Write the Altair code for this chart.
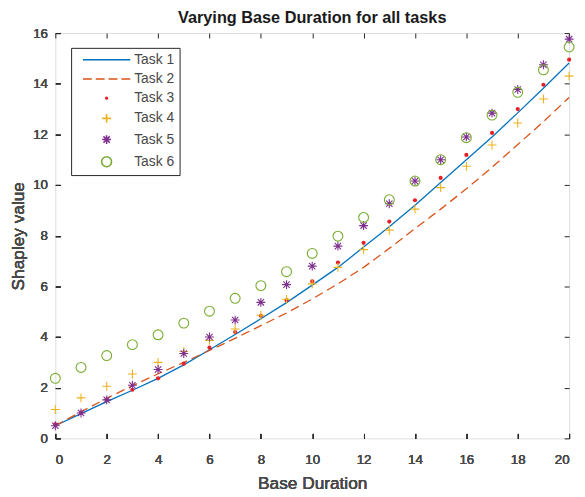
import altair as alt
import pandas as pd

base_duration = list(range(21))
task1 = [0.5, 0.98, 1.45, 1.9, 2.37, 2.9, 3.5, 4.1, 4.72, 5.36, 6.05, 6.75, 7.55, 8.35, 9.2, 10.1, 11.0, 11.9, 12.85, 13.82, 14.82]
task2 = [0.5, 1.05, 1.58, 2.08, 2.55, 3.0, 3.47, 3.95, 4.45, 4.95, 5.5, 6.1, 6.75, 7.5, 8.28, 9.05, 9.85, 10.7, 11.6, 12.5, 13.46]
task3 = [0.55, 1.02, 1.53, 1.92, 2.37, 2.95, 3.58, 4.2, 4.84, 5.45, 6.2, 6.94, 7.72, 8.56, 9.4, 10.28, 11.19, 12.06, 13.0, 13.96, 14.95]
task4 = [1.14, 1.6, 2.06, 2.54, 3.0, 3.43, 3.87, 4.32, 4.86, 5.49, 6.1, 6.75, 7.45, 8.22, 9.05, 9.9, 10.74, 11.58, 12.45, 13.4, 14.3]
task5 = [0.5, 1.0, 1.52, 2.1, 2.72, 3.35, 4.0, 4.67, 5.37, 6.07, 6.8, 7.59, 8.4, 9.26, 10.16, 11.0, 11.9, 12.84, 13.77, 14.75, 15.76]
task6 = [2.37, 2.8, 3.27, 3.7, 4.09, 4.55, 5.02, 5.53, 6.03, 6.58, 7.3, 7.98, 8.72, 9.42, 10.16, 11.0, 11.87, 12.76, 13.66, 14.55, 15.45]

series_names = ["Task 1", "Task 2", "Task 3", "Task 4", "Task 5", "Task 6"]
series_colors = ["#0072BD", "#D95319", "#E8202A", "#EDB120", "#7E2F8E", "#77AC30"]
series_shapes = [
    "M-4.8,0L4.8,0",
    "M-4.8,0L-3,0M-2.2,0L-0.4,0M0.4,0L2.2,0M3,0L4.8,0",
    "M0.18,0A0.18,0.18,0,1,1,-0.18,0A0.18,0.18,0,1,1,0.18,0Z",
    "M-0.9,0L0.9,0M0,-0.9L0,0.9",
    "M-0.9,0L0.9,0M0,-0.9L0,0.9M-0.64,-0.64L0.64,0.64M-0.64,0.64L0.64,-0.64",
    "circle",
]

all_values = [task1, task2, task3, task4, task5, task6]
rows = []
for name, vals in zip(series_names, all_values):
    for xv, yv in zip(base_duration, vals):
        rows.append({"x": xv, "y": yv, "series": name})
df = pd.DataFrame(rows)

FONT = "Liberation Sans"
AX = "#262626"
TXT = "#484848"

xscale = alt.Scale(domain=[0, 20], nice=False, zero=False)
yscale = alt.Scale(domain=[0, 16], nice=False, zero=False)

x_bottom = alt.X("x:Q", scale=xscale, axis=alt.Axis(
    orient="bottom", values=list(range(0, 21, 2)), offset=-5, tickSize=5,
    labelPadding=14, title="Base Duration", titleFontSize=17.5, titleFontWeight="normal",
    titlePadding=9, titleColor=TXT, labelFontSize=13.5, labelColor=TXT, domain=False,
    labelFontWeight="normal", grid=False, tickColor=AX, labelFont=FONT, titleFont=FONT))
y_left = alt.Y("y:Q", scale=yscale, axis=alt.Axis(
    orient="left", values=list(range(0, 17, 2)), offset=-5, tickSize=5,
    labelPadding=8, title="Shapley value", titleFontSize=17.5, titleFontWeight="normal",
    titlePadding=5, titleColor=TXT, labelFontSize=13.5, labelColor=TXT, domain=False,
    labelFontWeight="normal", grid=False, tickColor=AX, labelFont=FONT, titleFont=FONT))

x_top = alt.X("x:Q", scale=xscale, axis=alt.Axis(
    orient="top", values=list(range(0, 21, 2)), offset=-5, tickSize=5,
    labels=False, title=None, domain=False, grid=False, tickColor=AX))
y_right = alt.Y("y:Q", scale=yscale, axis=alt.Axis(
    orient="right", values=list(range(0, 17, 2)), offset=-5, tickSize=5,
    labels=False, title=None, domain=False, grid=False, tickColor=AX))

line1 = alt.Chart(df[df.series == "Task 1"]).mark_line(
    color=series_colors[0], strokeWidth=1.3).encode(x=x_bottom, y=y_left)
line2 = alt.Chart(df[df.series == "Task 2"]).mark_line(
    color=series_colors[1], strokeWidth=1.3, strokeDash=[9, 5]).encode(x=x_bottom, y=y_left)
dots3 = alt.Chart(df[df.series == "Task 3"]).mark_circle(
    color=series_colors[2], size=18, opacity=1).encode(x=x_bottom, y=y_left)

points = alt.Chart(df[df.series.isin(["Task 4", "Task 5", "Task 6"])]).mark_point(
    filled=False, size=100, strokeWidth=1.1, opacity=1).encode(
    x=x_bottom, y=y_left,
    color=alt.Color("series:N", scale=alt.Scale(domain=series_names, range=series_colors),
                    legend=alt.Legend(
                        title=None, orient="none", legendX=16, legendY=15,
                        strokeColor=AX, fillColor="white", padding=5,
                        symbolSize=100, symbolStrokeWidth=1.6, symbolOffset=24,
                        labelOffset=21, rowPadding=5.5, labelFontSize=14,
                        labelFont=FONT, labelColor=TXT, symbolOpacity=1)),
    shape=alt.Shape("series:N", scale=alt.Scale(domain=series_names, range=series_shapes)),
)

frame = alt.Chart(df[df.series == "Task 1"]).mark_line(opacity=0).encode(x=x_top, y=y_right)

chart = alt.layer(line1, line2, dots3, points, frame).properties(
    width=521, height=411,
    title=alt.TitleParams("Varying Base Duration for all tasks", fontSize=16.5,
                          fontWeight="bold", font=FONT, color="#1a1a1a",
                          anchor="middle", offset=0),
    autosize=alt.AutoSizeParams(type="none"),
    padding={"left": 48, "top": 22, "right": 8, "bottom": 54},
).configure_view(stroke=AX, strokeWidth=1).configure(background="white")

chart.save("out.html", embed_options={"renderer": "svg", "actions": False})
